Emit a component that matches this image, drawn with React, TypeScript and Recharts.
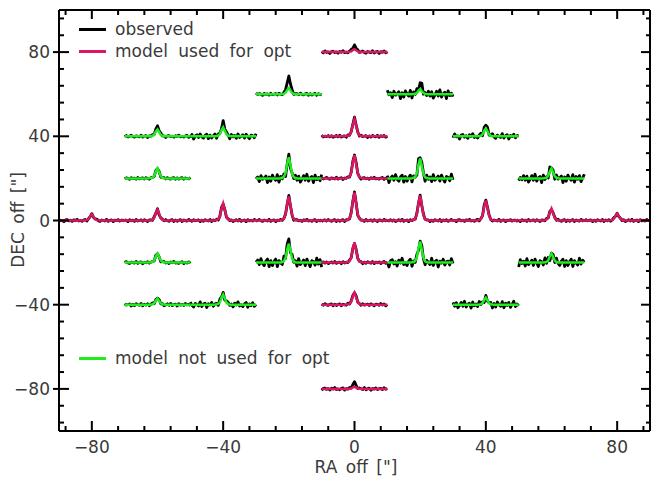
import { LineChart, Line, XAxis, YAxis } from "recharts";

// Map of spectra: each spectrum sits at (RA, DEC) and spans +-10" around its RA.
const SPEC_RA = [
  0,
  -20, 20,
  -60, -40, 0, 40,
  -60, -20, 0, 20, 60,
  -80, -60, -40, -20, 0, 20, 40, 60, 80,
  -60, -20, 0, 20, 60,
  -60, -40, 0, 40,
  0,
];
const SPEC_DEC = [
  80,
  60, 60,
  40, 40, 40, 40,
  20, 20, 20, 20, 20,
  0, 0, 0, 0, 0, 0, 0, 0, 0,
  -20, -20, -20, -20, -20,
  -40, -40, -40, -40,
  -80,
];
// true = model used for the optimisation (magenta), false = not used (green)
const USED = [
  true,
  false, false,
  false, false, true, false,
  false, false, true, false, false,
  true, true, true, true, true, true, true, true, true,
  false, false, true, false, false,
  false, false, true, false,
  true,
];
// peak heights in DEC units (line drawn as DEC + intensity)
const MODEL_PEAK = [
  1.4,
  2.9, 2.4,
  3.3, 4.3, 8.1, 3.8,
  4.8, 10.0, 11.0, 9.5, 4.8,
  2.9, 5.2, 8.1, 11.4, 13.3, 11.9, 9.5, 5.7, 3.3,
  4.3, 9.0, 9.5, 10.0, 4.3,
  2.9, 4.8, 5.7, 3.3,
  1.0,
];
const OBS_PEAK = [
  3.3,
  8.1, 5.2,
  4.8, 6.2, 8.6, 5.7,
  4.8, 9.5, 11.4, 10.5, 5.2,
  2.9, 5.2, 8.1, 11.4, 13.3, 11.9, 10.0, 5.7, 3.3,
  4.3, 11.0, 9.5, 10.0, 4.3,
  3.3, 5.7, 6.2, 3.3,
  2.9,
];
// noise level of each observed spectrum
const NOISE_LEVEL = [
  0.7,
  0.6, 2.3,
  0.6, 1.4, 0.6, 1.4,
  0.5, 2.2, 0.6, 2.2, 2.2,
  0.6, 0.6, 0.6, 0.6, 0.6, 0.6, 0.6, 0.6, 0.6,
  0.6, 2.4, 0.6, 2.3, 2.3,
  0.7, 1.5, 0.6, 1.8,
  0.7,
];

// normalised line profile, 41 channels of 0.5"
const PROFILE = [
  0, 0, 0, 0, 0, 0, 0, 0, 0, 0,
  0, 0, 0, 0, 0, 0.01, 0.03, 0.08, 0.25, 0.7,
  1, 0.62, 0.22, 0.06, 0.02, 0, 0, 0, 0, 0,
  0, 0, 0, 0, 0, 0, 0, 0, 0, 0,
  0,
];
const CH_STEP = 0.5;
const CENTER_CH = 20;

// channel noise patterns (unit amplitude)
const NOISE_A = [
  0.3, -0.5, 0.8, -0.2, 0.1, -0.9, 0.4, 0.6, -0.3, 0.2,
  -0.7, 0.5, -0.1, 0.9, -0.4, 0.0, -0.6, 0.3, 0.7, -0.8,
  0.2, -0.3, 0.6, -0.5, 0.1, 0.8, -0.2, -0.7, 0.4, 0.0,
  -0.4, 0.9, -0.6, 0.2, 0.5, -0.9, 0.3, -0.1, 0.7, -0.5,
  0.2,
];
const NOISE_B = [
  -0.6, 0.2, 0.7, -0.8, 0.4, -0.1, -0.5, 0.9, -0.3, 0.5,
  0.1, -0.9, 0.6, -0.2, 0.3, -0.7, 0.8, -0.4, 0.0, 0.5,
  -0.6, 0.7, -0.1, -0.8, 0.4, 0.2, -0.5, 0.9, -0.3, 0.6,
  -0.9, 0.1, 0.5, -0.4, 0.8, -0.2, -0.6, 0.3, 0.7, -0.8,
  0.4,
];
const NOISE_C = [
  0.5, -0.8, -0.2, 0.6, -0.4, 0.9, -0.6, 0.1, 0.4, -0.9,
  0.7, -0.3, 0.2, -0.5, 0.8, -0.1, 0.3, -0.7, 0.6, -0.2,
  0.1, 0.5, -0.9, 0.3, -0.6, 0.7, 0.0, -0.4, 0.8, -0.8,
  0.4, -0.2, 0.6, -0.7, 0.1, 0.9, -0.5, 0.2, -0.3, 0.6,
  -0.4,
];
const NOISE_PATTERNS = [NOISE_A, NOISE_B, NOISE_C];

const X_TICKS = [-88, -80, -72, -64, -56, -48, -40, -32, -24, -16, -8, 0, 8, 16, 24, 32, 40, 48, 56, 64, 72, 80, 88];
const Y_TICKS = [-96, -88, -80, -72, -64, -56, -48, -40, -32, -24, -16, -8, 0, 8, 16, 24, 32, 40, 48, 56, 64, 72, 80, 88, 96];
const MAJOR = [-80, -40, 0, 40, 80];

const MAGENTA = "#de1464";
const GREEN = "#1eee1e";
const FONT = "'DejaVu Sans', sans-serif";
const TEXT = "#3a3a3a";

const spectra = SPEC_RA.map((ra, k) => {
  const noise = NOISE_PATTERNS[k % NOISE_PATTERNS.length];
  const model = PROFILE.map((p, i) => ({
    x: ra + (i - CENTER_CH) * CH_STEP,
    y: SPEC_DEC[k] + MODEL_PEAK[k] * p,
  }));
  const obs = PROFILE.map((p, i) => ({
    x: ra + (i - CENTER_CH) * CH_STEP,
    y: SPEC_DEC[k] + OBS_PEAK[k] * p + NOISE_LEVEL[k] * noise[(i + k * 7) % noise.length],
  }));
  return { model, obs, used: USED[k] };
});

const fmt = (v: number) => (v < 0 ? "\u2212" + Math.abs(v) : String(v));

const BottomTick = ({ x, y, payload }: any) => {
  const major = MAJOR.includes(payload.value);
  return (
    <g>
      <line x1={x} x2={x} y1={y} y2={y - (major ? 10 : 5)} stroke="#000" strokeWidth={2} />
      {major && (
        <text x={x} y={y + 16} textAnchor="middle" dominantBaseline="central" fontSize={17} fontFamily={FONT} fill={TEXT}>
          {fmt(payload.value)}
        </text>
      )}
    </g>
  );
};

const TopTick = ({ x, y, payload }: any) => {
  const major = MAJOR.includes(payload.value);
  return <line x1={x} x2={x} y1={y} y2={y + (major ? 9 : 5)} stroke="#000" strokeWidth={2} />;
};

const LeftTick = ({ x, y, payload }: any) => {
  const major = MAJOR.includes(payload.value);
  return (
    <g>
      <line x1={major ? x - 6 : x} x2={x + (major ? 10 : 5)} y1={y} y2={y} stroke="#000" strokeWidth={2} />
      {major && (
        <text x={x - 9} y={y} textAnchor="end" dominantBaseline="central" fontSize={17} fontFamily={FONT} fill={TEXT}>
          {fmt(payload.value)}
        </text>
      )}
    </g>
  );
};

const RightTick = ({ x, y, payload }: any) => {
  const major = MAJOR.includes(payload.value);
  return <line x1={x} x2={x - (major ? 9 : 4)} y1={y} y2={y} stroke="#000" strokeWidth={2} />;
};

const legendRow = (top: number, color: string, label: string) => (
  <div style={{ position: "absolute", left: 79, top: top - 12, height: 24, display: "flex", alignItems: "center" }}>
    <div style={{ width: 27, height: 3, background: color }} />
    <span style={{ marginLeft: 9, fontSize: 17, fontFamily: FONT, color: TEXT, wordSpacing: 5, whiteSpace: "nowrap" }}>
      {label}
    </span>
  </div>
);

export default function App() {
  return (
    <div style={{ position: "absolute", left: 0, top: 0, width: 651, height: 482, background: "#fff" }}>
      <LineChart width={651} height={482} margin={{ top: 9, right: 0, bottom: 0, left: 0 }}>
        <XAxis
          xAxisId="bottom"
          dataKey="x"
          type="number"
          domain={[-90, 90]}
          allowDataOverflow
          ticks={X_TICKS}
          interval={0}
          height={51}
          tickSize={0}
          tickMargin={0}
          tickLine={false}
          axisLine={{ stroke: "#000", strokeWidth: 2 }}
          tick={BottomTick}
        />
        <XAxis
          xAxisId="top"
          orientation="top"
          dataKey="x"
          type="number"
          domain={[-90, 90]}
          allowDataOverflow
          ticks={X_TICKS}
          interval={0}
          height={1}
          tickSize={0}
          tickMargin={0}
          tickLine={false}
          axisLine={{ stroke: "#000", strokeWidth: 2 }}
          tick={TopTick}
        />
        <YAxis
          yAxisId="left"
          type="number"
          domain={[-100, 100]}
          allowDataOverflow
          ticks={Y_TICKS}
          interval={0}
          width={59}
          tickSize={0}
          tickMargin={0}
          tickLine={false}
          axisLine={{ stroke: "#000", strokeWidth: 2 }}
          tick={LeftTick}
        />
        <YAxis
          yAxisId="right"
          orientation="right"
          type="number"
          domain={[-100, 100]}
          allowDataOverflow
          ticks={Y_TICKS}
          interval={0}
          width={1}
          tickSize={0}
          tickMargin={0}
          tickLine={false}
          axisLine={{ stroke: "#000", strokeWidth: 2 }}
          tick={RightTick}
        />
        {spectra.map((s, k) => (
          <Line
            key={`obs-${k}`}
            xAxisId="bottom"
            yAxisId="left"
            data={s.obs}
            dataKey="y"
            stroke="#000"
            strokeWidth={2.8}
            strokeLinejoin="round"
            dot={false}
            activeDot={false}
            isAnimationActive={false}
          />
        ))}
        {spectra.map((s, k) => (
          <Line
            key={`mod-${k}`}
            xAxisId="bottom"
            yAxisId="left"
            data={s.model}
            dataKey="y"
            stroke={s.used ? MAGENTA : GREEN}
            strokeWidth={2.5}
            dot={false}
            activeDot={false}
            isAnimationActive={false}
          />
        ))}
      </LineChart>

      {legendRow(29, "#000", "observed")}
      {legendRow(51, MAGENTA, "model used for opt")}
      {legendRow(358, GREEN, "model not used for opt")}

      <div
        style={{
          position: "absolute",
          left: 18,
          top: 220,
          transform: "translate(-50%, -50%) rotate(-90deg)",
          fontSize: 17,
          lineHeight: 1,
          fontFamily: FONT,
          color: TEXT,
          whiteSpace: "nowrap",
          wordSpacing: 3,
        }}
      >
        DEC off ["]
      </div>
      <div
        style={{
          position: "absolute",
          left: 356,
          top: 467,
          transform: "translate(-50%, -50%)",
          fontSize: 17,
          lineHeight: 1,
          fontFamily: FONT,
          color: TEXT,
          whiteSpace: "nowrap",
          wordSpacing: 3,
        }}
      >
        RA off ["]
      </div>
    </div>
  );
}
